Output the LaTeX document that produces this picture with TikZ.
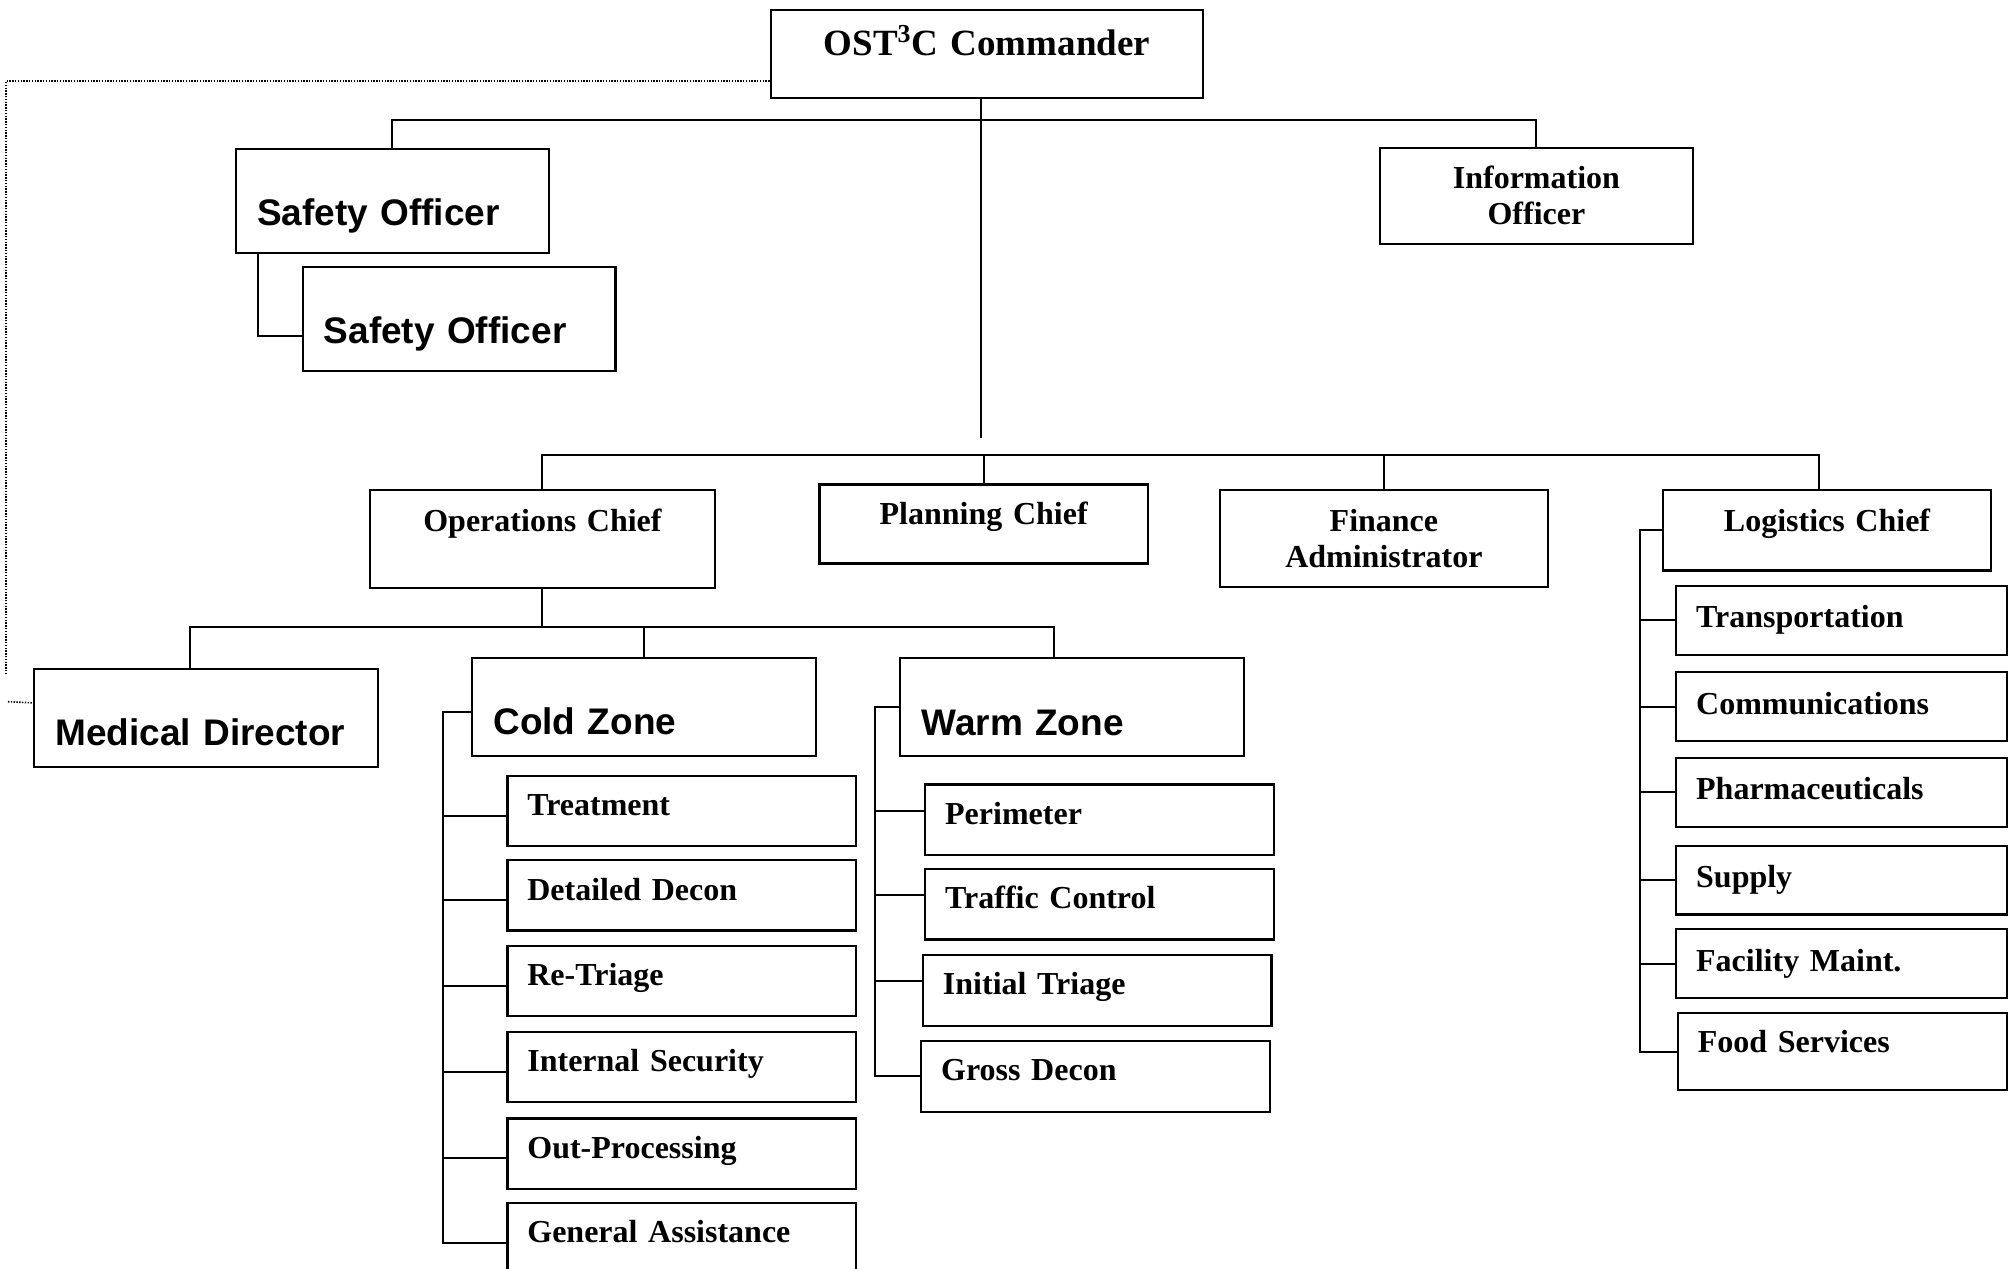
\documentclass[tikz,border=0pt]{standalone}
\usepackage{fontspec}
\setmainfont{Liberation Serif}
\setsansfont{Liberation Sans}
\usepackage{tikz}

\begin{document}
\begin{tikzpicture}[x=0.5pt, y=-0.5pt,
    box/.style={draw, line width=1.15pt, inner ysep=0pt, anchor=north west},
    serif/.style={font=\fontsize{16pt}{18pt}\selectfont\bfseries},
    sans/.style={font=\fontsize{18.5pt}{21pt}\selectfont\sffamily\bfseries},
    % width, height, baseline from top
    chief/.style n args={3}{box, serif, inner xsep=0pt, align=center,
        text width=#1, text height=#3, text depth=#2-#3},
    task/.style n args={3}{box, serif, inner xsep=10pt, align=left,
        text width=#1-20pt, text height=#3, text depth=#2-#3},
    officer/.style={box, sans, inner xsep=10.5pt, align=left,
        text width=135.25pt, text height=38.5pt, text depth=13.5pt},
    zone/.style={box, sans, inner xsep=10.75pt, align=left,
        text width=150.5pt, text height=38.5pt, text depth=10.5pt},
    coldtask/.style={task={174.2pt}{35.15pt}{20pt}},
    warmtask/.style={task={174.25pt}{35.3pt}{19.75pt}},
    logtask/.style={task={165.5pt}{34.35pt}{21pt}},
    link/.style={line width=1pt},
    dotline/.style={line width=0.8pt, dash pattern=on 0.7pt off 0.7pt}]
    \useasboundingbox (0,0) rectangle (2011,1268);

    % command staff
    \node[chief={216.25pt}{44pt}{22.5pt}, font=\fontsize{18.5pt}{21pt}\selectfont\bfseries] (cmd) at (769.5,9) {OST\textsuperscript{3}C Commander};
    \node[officer] (so1) at (235,147.5) {Safety Officer};
    \node[officer] (so2) at (301.7,265.7) {Safety Officer};
    \node[chief={156.25pt}{48pt}{20.35pt}] (info) at (1379,147) {Information\\Officer};

    % section chiefs
    \node[chief={172.3pt}{49pt}{20.5pt}] (ops) at (369,489) {Operations Chief};
    \node[chief={164.2pt}{39.5pt}{20pt}] (plan) at (818.3,483.3) {Planning Chief};
    \node[chief={164.25pt}{48.5pt}{20.5pt}] (fin) at (1218.5,489) {Finance\\Administrator};
    \node[chief={164.15pt}{40.35pt}{21pt}] (lg) at (1661.7,488.7) {Logistics Chief};

    % operations
    \node[zone] (md) at (32.7,667.7) {Medical Director};
    \node[zone] (cold) at (470.7,656.7) {Cold Zone};
    \node[zone] (warm) at (898.9,656.9) {Warm Zone};

    \node[coldtask] (tr) at (506.2,774.6) {Treatment};
    \node[coldtask] (dd) at (506.2,859) {Detailed Decon};
    \node[coldtask] (rt) at (506.2,944.5) {Re-Triage};
    \node[coldtask] (is) at (506.2,1030.5) {Internal Security};
    \node[coldtask] (op) at (506.2,1117.3) {Out-Processing};
    \node[coldtask] (ga) at (506.2,1201.6) {General Assistance};

    \node[warmtask] (pm) at (924,783.4) {Perimeter};
    \node[warmtask] (tc) at (924,867.7) {Traffic Control};
    \node[warmtask] (it) at (921.8,954) {Initial Triage};
    \node[warmtask] (gd) at (920,1040) {Gross Decon};

    % logistics
    \node[logtask] (tp) at (1675,584.8) {Transportation};
    \node[logtask] (cm) at (1675,671) {Communications};
    \node[logtask] (ph) at (1675,756.8) {Pharmaceuticals};
    \node[logtask] (su) at (1675,844.6) {Supply};
    \node[logtask] (fm) at (1675,928) {Facility Maint.};
    \node[task={164.65pt}{38.6pt}{19.8pt}] (fs) at (1676.7,1011.8) {Food Services};

    % bus points
    \coordinate (topbus) at (0,120.5);
    \coordinate (trunkend) at (981,438);
    \coordinate (lgdrop) at (1818.6,455);
    \coordinate (opsbus) at (190,627);
    \coordinate (warmdrop) at (1054,627);
    \coordinate (coldbar) at (442.5,0);
    \coordinate (warmbar) at (874.5,0);
    \coordinate (logbar) at (1640,0);
    \coordinate (dotend) at (6,675);
    \coordinate (dotstart) at (8,701.7);

    % connectors
    \draw[dotline] ([yshift=-13.5pt]cmd.west) -| (dotend);
    \draw[dotline] (dotstart) -- ([yshift=7.5pt]md.west);

    \draw[link] (so1.north) -- (so1.north |- topbus) -| (info.north);
    \draw[link] (cmd.south -| trunkend) -- (trunkend);
    \draw[link] ([xshift=11.5pt]so1.south west) |- ([yshift=-8.5pt]so2.west);

    \draw[link] (ops.north) -- (ops.north |- lgdrop) -- (lgdrop) -- (lgdrop |- lg.north);
    \draw[link] (plan.north) -- (plan.north |- lgdrop);
    \draw[link] (fin.north) -- (fin.north |- lgdrop);

    \draw[link] (ops.south) -- (ops.south |- opsbus);
    \draw[link] (opsbus |- md.north) -- (opsbus) -- (warmdrop) -- (warmdrop |- warm.north);
    \draw[link] (cold.north |- opsbus) -- (cold.north);

    \draw[link] ([yshift=-2.5pt]cold.west) -| (coldbar |- ga.base west) -- (ga.base west);
    \draw[link] (tr.base west) -- (tr.base west -| coldbar)
        (dd.base west) -- (dd.base west -| coldbar)
        (rt.base west) -- (rt.base west -| coldbar)
        (is.base west) -- (is.base west -| coldbar)
        (op.base west) -- (op.base west -| coldbar);

    \draw[link] (warm.west) -| (warmbar |- gd.west) -- (gd.west);
    \draw[link] ([yshift=4.5pt]pm.west) -- ([yshift=4.5pt]pm.west -| warmbar)
        ([yshift=4.5pt]tc.west) -- ([yshift=4.5pt]tc.west -| warmbar)
        ([yshift=4.5pt]it.west) -- ([yshift=4.5pt]it.west -| warmbar);

    \draw[link] (lg.west) -| (logbar |- fs.west) -- (fs.west);
    \draw[link] (tp.west) -- (tp.west -| logbar)
        (cm.west) -- (cm.west -| logbar)
        (ph.west) -- (ph.west -| logbar)
        (su.west) -- (su.west -| logbar)
        (fm.west) -- (fm.west -| logbar);
\end{tikzpicture}
\end{document}
